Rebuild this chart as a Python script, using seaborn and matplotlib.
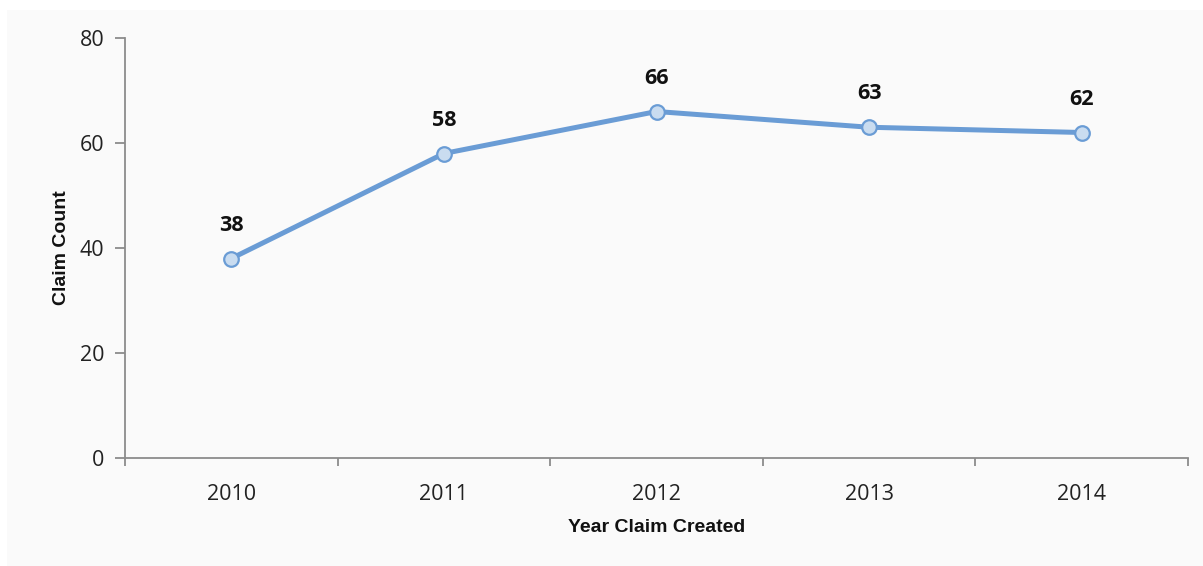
import matplotlib
matplotlib.use("Agg")
import matplotlib.pyplot as plt
import seaborn as sns
import pandas as pd
from matplotlib.patches import Rectangle
from matplotlib.ticker import FixedLocator

years = ["2010", "2011", "2012", "2013", "2014"]
claims = [38, 58, 66, 63, 62]
y_ticks = [0, 20, 40, 60, 80]

sns.set_theme(style="white")
plt.rcParams["font.family"] = ["Open Sans", "DejaVu Sans"]

df = pd.DataFrame({"year": years, "claims": claims})

fig = plt.figure(figsize=(12.03, 5.66), dpi=100)
fig.patch.set_facecolor("white")
# soft grey panel behind the chart
fig.patches.append(Rectangle((7 / 1203, 0.0), 1.0, 556 / 566, transform=fig.transFigure,
                             facecolor="#fafafa", edgecolor="none", zorder=-10))

ax = fig.add_axes([125 / 1203, (566 - 458) / 566, (1188 - 125) / 1203, (458 - 38) / 566])
ax.set_facecolor("none")

line_color = "#6a9cd5"
sns.lineplot(data=df, x="year", y="claims", ax=ax, color=line_color, linewidth=3.6,
             marker="o", markersize=10.5, markerfacecolor="#c9dcf0",
             markeredgecolor=line_color, markeredgewidth=1.6, sort=False)

ax.set_xlim(-0.5, len(years) - 0.5)
ax.set_ylim(0, 80)

# category boundaries carry the tick marks, labels sit at the centres
ax.xaxis.set_major_locator(FixedLocator([i - 0.5 for i in range(len(years) + 1)]))
ax.set_xticklabels([""] * (len(years) + 1))
ax.xaxis.set_minor_locator(FixedLocator(list(range(len(years)))))
ax.set_xticklabels(years, minor=True)
ax.tick_params(axis="x", which="major", direction="out", length=6, width=1.3,
               color="#8c8c8c", bottom=True)
ax.tick_params(axis="x", which="minor", length=0, pad=19, labelsize=15.5,
               labelcolor="#222222", bottom=True)

ax.set_yticks(y_ticks)
ax.tick_params(axis="y", direction="out", length=7, width=1.3, color="#8c8c8c",
               left=True, pad=8, labelsize=15.5, labelcolor="#222222")

for side in ["top", "right"]:
    ax.spines[side].set_visible(False)
for side in ["left", "bottom"]:
    ax.spines[side].set_color("#8c8c8c")
    ax.spines[side].set_linewidth(1.3)

for i, v in enumerate(claims):
    ax.annotate(str(v), (i, v), xytext=(0, 24), textcoords="offset points",
                ha="center", va="center", fontsize=15.5, fontweight="bold", color="#111111")

ax.set_xlabel("Year Claim Created", fontsize=14, fontweight="bold",
              family=["Liberation Sans", "DejaVu Sans"], labelpad=10, color="#111111")
ax.set_ylabel("Claim Count", fontsize=14, fontweight="bold",
              family=["Liberation Sans", "DejaVu Sans"], labelpad=7, color="#111111")

fig.savefig("out.png", dpi=100)
